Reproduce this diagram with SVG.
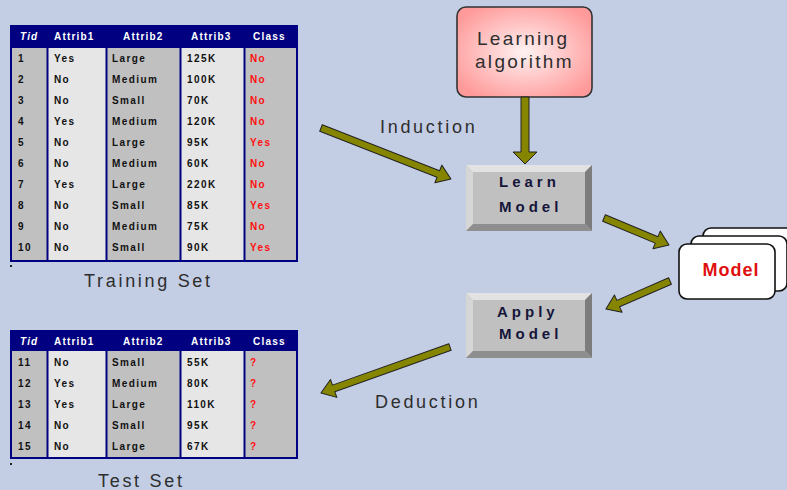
<svg xmlns="http://www.w3.org/2000/svg" width="787" height="490" viewBox="0 0 787 490">
<defs>
<radialGradient id="pink" cx="50%" cy="50%" r="60%">
<stop offset="0" stop-color="#fff2f2"/>
<stop offset="1" stop-color="#ff9a9a"/>
</radialGradient>
<style>
.hdr{fill:#000080}
.cg{fill:#c0c0c0}
.cl{fill:#e6e6e6}
.sep{stroke:#000080;stroke-width:2}
.frame{fill:none;stroke:#000080;stroke-width:2}
.ht{font-family:"Liberation Sans",Arial,sans-serif;font-size:10px;font-weight:bold;fill:#fff;letter-spacing:1.2px}
.dt{font-family:"Liberation Sans",Arial,sans-serif;font-size:10px;font-weight:bold;fill:#111;letter-spacing:1.4px}
.red{fill:#ff1010}
.lbl{font-family:"Liberation Sans",Arial,sans-serif;font-size:18px;fill:#2e2e2e;letter-spacing:2.7px}
.btn{font-family:"Liberation Sans",Arial,sans-serif;font-size:15px;font-weight:bold;fill:#15153a;letter-spacing:4px}
.arrow{fill:#858500;stroke:#222;stroke-width:1;stroke-linejoin:round}
.mdl{fill:#fff;stroke:#111;stroke-width:1.6}
</style>
</defs>
<rect width="787" height="490" fill="#c3cde3"/>

<g id="training-set">
<rect class="cg" x="11" y="48" width="37" height="213"/>
<rect class="cl" x="48" y="48" width="59" height="213"/>
<rect class="cg" x="107" y="48" width="74" height="213"/>
<rect class="cl" x="181" y="48" width="64" height="213"/>
<rect class="cg" x="245" y="48" width="52" height="213"/>
<rect class="hdr" x="11" y="26" width="286" height="22"/>
<g class="sep"><line x1="47.5" y1="26" x2="47.5" y2="261"/><line x1="106.5" y1="26" x2="106.5" y2="261"/><line x1="180.5" y1="26" x2="180.5" y2="261"/><line x1="244.5" y1="26" x2="244.5" y2="261"/></g>
<rect class="frame" x="11" y="26" width="286" height="235"/>
<g class="ht"><text x="20" y="40" font-style="italic">Tid</text><text x="54" y="40">Attrib1</text><text x="123" y="40">Attrib2</text><text x="191" y="40">Attrib3</text><text x="253" y="40">Class</text></g>
<g class="dt">
<text x="18" y="61.5">1</text><text x="54" y="61.5">Yes</text><text x="112" y="61.5">Large</text><text x="187" y="61.5">125K</text><text x="250" y="61.5" class="red">No</text>
<text x="18" y="82.6">2</text><text x="54" y="82.6">No</text><text x="112" y="82.6">Medium</text><text x="187" y="82.6">100K</text><text x="250" y="82.6" class="red">No</text>
<text x="18" y="103.7">3</text><text x="54" y="103.7">No</text><text x="112" y="103.7">Small</text><text x="187" y="103.7">70K</text><text x="250" y="103.7" class="red">No</text>
<text x="18" y="124.8">4</text><text x="54" y="124.8">Yes</text><text x="112" y="124.8">Medium</text><text x="187" y="124.8">120K</text><text x="250" y="124.8" class="red">No</text>
<text x="18" y="145.9">5</text><text x="54" y="145.9">No</text><text x="112" y="145.9">Large</text><text x="187" y="145.9">95K</text><text x="250" y="145.9" class="red">Yes</text>
<text x="18" y="167">6</text><text x="54" y="167">No</text><text x="112" y="167">Medium</text><text x="187" y="167">60K</text><text x="250" y="167" class="red">No</text>
<text x="18" y="188.1">7</text><text x="54" y="188.1">Yes</text><text x="112" y="188.1">Large</text><text x="187" y="188.1">220K</text><text x="250" y="188.1" class="red">No</text>
<text x="18" y="209.2">8</text><text x="54" y="209.2">No</text><text x="112" y="209.2">Small</text><text x="187" y="209.2">85K</text><text x="250" y="209.2" class="red">Yes</text>
<text x="18" y="230.3">9</text><text x="54" y="230.3">No</text><text x="112" y="230.3">Medium</text><text x="187" y="230.3">75K</text><text x="250" y="230.3" class="red">No</text>
<text x="18" y="251.4">10</text><text x="54" y="251.4">No</text><text x="112" y="251.4">Small</text><text x="187" y="251.4">90K</text><text x="250" y="251.4" class="red">Yes</text>
</g>
<rect x="10" y="265" width="2" height="2" fill="#222"/>
<text class="lbl" x="84" y="287">Training Set</text>
</g>

<g id="test-set">
<rect class="cg" x="11" y="351" width="37" height="107"/>
<rect class="cl" x="48" y="351" width="59" height="107"/>
<rect class="cg" x="107" y="351" width="74" height="107"/>
<rect class="cl" x="181" y="351" width="64" height="107"/>
<rect class="cg" x="245" y="351" width="52" height="107"/>
<rect class="hdr" x="11" y="331" width="286" height="20"/>
<g class="sep"><line x1="47.5" y1="331" x2="47.5" y2="458"/><line x1="106.5" y1="331" x2="106.5" y2="458"/><line x1="180.5" y1="331" x2="180.5" y2="458"/><line x1="244.5" y1="331" x2="244.5" y2="458"/></g>
<rect class="frame" x="11" y="331" width="286" height="127"/>
<g class="ht"><text x="20" y="344.5" font-style="italic">Tid</text><text x="54" y="344.5">Attrib1</text><text x="123" y="344.5">Attrib2</text><text x="191" y="344.5">Attrib3</text><text x="253" y="344.5">Class</text></g>
<g class="dt">
<text x="18" y="365.5">11</text><text x="54" y="365.5">No</text><text x="112" y="365.5">Small</text><text x="187" y="365.5">55K</text><text x="250" y="365.5" class="red">?</text>
<text x="18" y="386.5">12</text><text x="54" y="386.5">Yes</text><text x="112" y="386.5">Medium</text><text x="187" y="386.5">80K</text><text x="250" y="386.5" class="red">?</text>
<text x="18" y="407.5">13</text><text x="54" y="407.5">Yes</text><text x="112" y="407.5">Large</text><text x="187" y="407.5">110K</text><text x="250" y="407.5" class="red">?</text>
<text x="18" y="428.5">14</text><text x="54" y="428.5">No</text><text x="112" y="428.5">Small</text><text x="187" y="428.5">95K</text><text x="250" y="428.5" class="red">?</text>
<text x="18" y="449.5">15</text><text x="54" y="449.5">No</text><text x="112" y="449.5">Large</text><text x="187" y="449.5">67K</text><text x="250" y="449.5" class="red">?</text>
</g>
<rect x="10" y="463" width="2" height="2" fill="#222"/>
<text class="lbl" x="98" y="487">Test Set</text>
</g>

<g id="learning-algorithm">
<rect x="457" y="7" width="135" height="90" rx="9" fill="url(#pink)" stroke="#333" stroke-width="1.6"/>
<text class="lbl" x="477" y="45" style="font-size:19px;letter-spacing:2.3px">Learning</text>
<text class="lbl" x="475" y="68" style="font-size:19px;letter-spacing:2.3px">algorithm</text>
</g>

<g id="learn-model">
<rect x="466" y="165" width="126" height="66" fill="#c0c0c0"/>
<polygon points="466,165 592,165 585,172 473,172" fill="#e2e2e2"/>
<polygon points="466,165 473,172 473,224 466,231" fill="#d6d6d6"/>
<polygon points="592,165 592,231 585,224 585,172" fill="#7c7c7c"/>
<polygon points="466,231 592,231 585,224 473,224" fill="#8e8e8e"/>
<text class="btn" x="499" y="187">Learn</text>
<text class="btn" x="499" y="212">Model</text>
</g>

<g id="apply-model">
<rect x="466" y="293" width="126" height="65" fill="#c0c0c0"/>
<polygon points="466,293 592,293 585,300 473,300" fill="#e2e2e2"/>
<polygon points="466,293 473,300 473,351 466,358" fill="#d6d6d6"/>
<polygon points="592,293 592,358 585,351 585,300" fill="#7c7c7c"/>
<polygon points="466,358 592,358 585,351 473,351" fill="#8e8e8e"/>
<text class="btn" x="497" y="317">Apply</text>
<text class="btn" x="499" y="339">Model</text>
</g>

<g id="model">
<rect class="mdl" x="703" y="228" width="96" height="55" rx="8"/>
<rect class="mdl" x="691" y="236" width="96" height="55" rx="8"/>
<rect class="mdl" x="679" y="244" width="96" height="55" rx="8"/>
<text x="731" y="276" text-anchor="middle" font-family="'Liberation Sans',Arial,sans-serif" font-size="18" font-weight="bold" fill="#e01010" letter-spacing="1">Model</text>
</g>

<g id="connectors">
<path class="arrow" transform="translate(321,128) rotate(21.4)" d="M0,-3.5 L126,-3.5 L126,-9.5 L139.6,0 L126,9.5 L126,3.5 L0,3.5 Z"/>
<path class="arrow" transform="translate(525,97) rotate(90)" d="M0,-4 L55,-4 L55,-12 L67,0 L55,12 L55,4 L0,4 Z"/>
<path class="arrow" transform="translate(604,218) rotate(22.6)" d="M0,-3.5 L57,-3.5 L57,-9.5 L70.4,0 L57,9.5 L57,3.5 L0,3.5 Z"/>
<path class="arrow" transform="translate(670,281) rotate(156.4)" d="M0,-3.5 L56.5,-3.5 L56.5,-9.5 L69.9,0 L56.5,9.5 L56.5,3.5 L0,3.5 Z"/>
<path class="arrow" transform="translate(450,347) rotate(160.4)" d="M0,-3.5 L123.5,-3.5 L123.5,-9.5 L137,0 L123.5,9.5 L123.5,3.5 L0,3.5 Z"/>
<text class="lbl" x="380" y="133">Induction</text>
<text class="lbl" x="375" y="408">Deduction</text>
</g>
</svg>
